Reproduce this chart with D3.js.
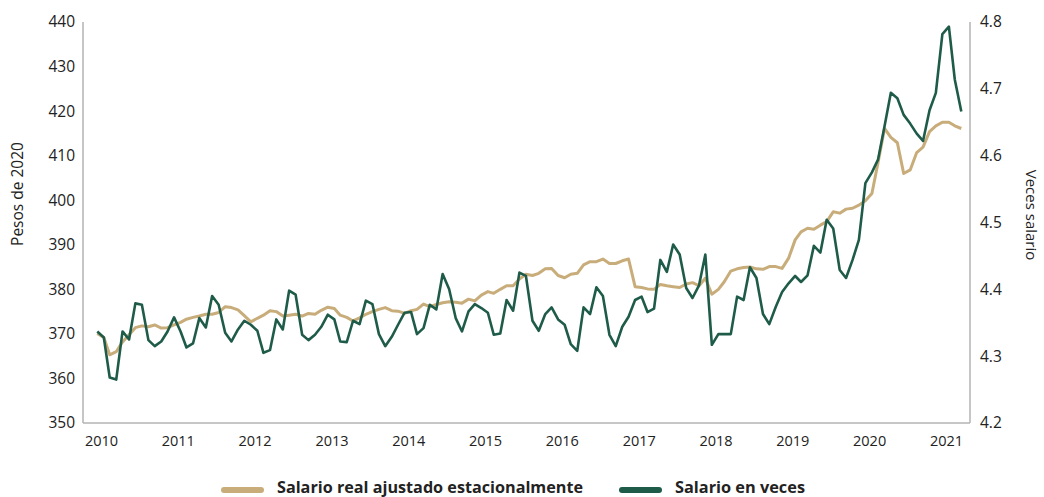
<!DOCTYPE html>
<html>
<head>
<meta charset="utf-8">
<script src="https://cdn.jsdelivr.net/npm/d3@7/dist/d3.min.js"></script>
<style>
  html, body { margin: 0; padding: 0; background: #fff; }
  svg { display: block; }
  text { font-family: "Open Sans", "Noto Sans", sans-serif; fill: #222; }
</style>
</head>
<body>
<svg id="chart" width="1044" height="497"></svg>
<script>
// ---- Data (monthly, Jan 2010 – Apr 2021) ----
const startMonth = "2010-01";
const endMonth = "2021-04";
const yearLabels = ["2010","2011","2012","2013","2014","2015","2016","2017","2018","2019","2020","2021"];
const leftTicks = [350, 360, 370, 380, 390, 400, 410, 420, 430, 440];
const rightTicks = [4.2, 4.3, 4.4, 4.5, 4.6, 4.7, 4.8];

// Salario real ajustado estacionalmente (pesos de 2020) – left axis
const salarioReal = [
  370.1, 369.2, 365.3, 366.0, 368.2, 369.8, 371.4, 371.8, 371.6, 372.0, 371.3, 371.4,
  372.0, 372.6, 373.3, 373.7, 374.0, 374.4, 374.4, 374.8, 376.1, 375.9, 375.4, 374.1,
  372.7, 373.5, 374.2, 375.2, 375.0, 374.0, 374.2, 374.4, 374.0, 374.6, 374.4, 375.3,
  376.0, 375.7, 374.2, 373.7, 372.9, 373.6, 374.4, 375.0, 375.5, 375.9, 375.2, 375.1,
  374.6, 375.2, 375.5, 376.7, 376.1, 376.6, 377.0, 377.2, 377.1, 376.9, 377.8, 377.4,
  378.7, 379.5, 379.1, 380.0, 380.8, 380.8, 382.3, 383.4, 383.1, 383.6, 384.6, 384.7,
  383.1, 382.6, 383.4, 383.6, 385.5, 386.2, 386.2, 386.8, 385.8, 385.8, 386.4, 386.8,
  380.6, 380.4, 380.1, 380.0, 381.1, 380.8, 380.6, 380.4, 381.2, 381.5, 380.8, 382.5,
  378.9, 380.0, 381.7, 384.1, 384.6, 384.9, 385.0, 384.6, 384.5, 385.1, 385.1, 384.7,
  387.0, 391.1, 392.9, 393.7, 393.5, 394.4, 395.2, 397.4, 397.1, 398.0, 398.2, 398.9,
  399.9, 401.5, 408.4, 416.1, 414.1, 412.9, 406.0, 406.8, 410.7, 411.9, 415.4, 416.7,
  417.5, 417.5, 416.7, 416.1
];

// Salario en veces – right axis
const salarioVeces = [
  4.337, 4.328, 4.268, 4.265, 4.337, 4.325, 4.379, 4.377, 4.324, 4.315, 4.322, 4.337,
  4.358, 4.337, 4.313, 4.319, 4.357, 4.343, 4.390, 4.377, 4.335, 4.322, 4.340, 4.353,
  4.347, 4.338, 4.305, 4.309, 4.355, 4.340, 4.398, 4.392, 4.332, 4.324, 4.332, 4.344,
  4.362, 4.355, 4.322, 4.321, 4.353, 4.348, 4.383, 4.378, 4.333, 4.315, 4.329, 4.347,
  4.365, 4.366, 4.333, 4.342, 4.377, 4.370, 4.423, 4.400, 4.357, 4.337, 4.367, 4.378,
  4.372, 4.365, 4.332, 4.334, 4.384, 4.368, 4.425, 4.420, 4.353, 4.338, 4.363, 4.373,
  4.355, 4.347, 4.318, 4.308, 4.373, 4.363, 4.403, 4.390, 4.332, 4.315, 4.344, 4.359,
  4.384, 4.389, 4.366, 4.371, 4.444, 4.426, 4.467, 4.452, 4.402, 4.387, 4.406, 4.452,
  4.317, 4.333, 4.333, 4.333, 4.389, 4.384, 4.433, 4.417, 4.363, 4.348, 4.374, 4.396,
  4.409, 4.420, 4.411, 4.421, 4.465, 4.455, 4.504, 4.491, 4.429, 4.417, 4.444, 4.474,
  4.559, 4.575, 4.594, 4.644, 4.694, 4.686, 4.661, 4.648, 4.633, 4.622, 4.668, 4.694,
  4.782, 4.793, 4.714, 4.666
];

const seriesNames = ["Salario real ajustado estacionalmente", "Salario en veces"];
const colors = ["#C8AD7B", "#1F5B49"];

// ---- Layout ----
const svg = d3.select("#chart");
const plot = { left: 83, right: 970, top: 22, bottom: 423 };
const parseM = d3.timeParse("%Y-%m");
const months = d3.timeMonth.range(parseM(startMonth), d3.timeMonth.offset(parseM(endMonth), 1));

const x = d3.scaleTime()
  .domain([months[0], months[months.length - 1]])
  .range([97.3, 961.3]);
const yL = d3.scaleLinear().domain([350, 440]).range([plot.bottom, plot.top]);
const yR = d3.scaleLinear().domain([4.2, 4.8]).range([plot.bottom, plot.top]);

// Frame lines
const axisColor = "#b3b3b3";
svg.append("line").attr("x1", plot.left).attr("x2", plot.left)
  .attr("y1", plot.top).attr("y2", plot.bottom).attr("stroke", axisColor).attr("stroke-width", 1.5);
svg.append("line").attr("x1", plot.right).attr("x2", plot.right)
  .attr("y1", plot.top).attr("y2", plot.bottom).attr("stroke", axisColor).attr("stroke-width", 1.5);
svg.append("line").attr("x1", plot.left).attr("x2", plot.right)
  .attr("y1", plot.bottom).attr("y2", plot.bottom).attr("stroke", axisColor).attr("stroke-width", 1.5);

// Left axis
const gL = svg.append("g").attr("transform", `translate(${plot.left},0)`)
  .call(d3.axisLeft(yL).tickValues(leftTicks).tickSize(0).tickPadding(8).tickFormat(d3.format("d")));
gL.select(".domain").remove();
gL.selectAll("text").style("font-size", "15.5px").style("font-family", "'Open Sans', sans-serif").attr("fill", "#222");

// Right axis
const gR = svg.append("g").attr("transform", `translate(${plot.right},0)`)
  .call(d3.axisRight(yR).tickValues(rightTicks).tickSize(0).tickPadding(10).tickFormat(d3.format(".1f")));
gR.select(".domain").remove();
gR.selectAll("text").style("font-size", "15.5px").style("font-family", "'Open Sans', sans-serif").attr("fill", "#222");

// Bottom axis
const yearDates = yearLabels.map(y => parseM(y + "-01"));
const gB = svg.append("g").attr("transform", `translate(3.7,${plot.bottom})`)
  .call(d3.axisBottom(x).tickValues(yearDates).tickSize(0).tickPadding(13)
    .tickFormat((d, i) => yearLabels[i]));
gB.select(".domain").remove();
gB.selectAll("text").style("font-size", "14.5px").style("font-family", "'Open Sans', sans-serif").attr("fill", "#222");

// Axis titles
svg.append("text")
  .attr("transform", `translate(23,194) rotate(-90)`)
  .attr("text-anchor", "middle").style("font-size", "15.5px")
  .text("Pesos de 2020");
svg.append("text")
  .attr("transform", `translate(1026,215) rotate(90)`)
  .attr("text-anchor", "middle").style("font-size", "15px")
  .text("Veces salario");

// Lines
const lineReal = d3.line().x((d, i) => x(months[i])).y(d => yL(d));
const lineVeces = d3.line().x((d, i) => x(months[i])).y(d => yR(d));

svg.append("path").datum(salarioReal)
  .attr("fill", "none").attr("stroke", colors[0]).attr("stroke-width", 3)
  .attr("stroke-linejoin", "round").attr("d", lineReal);
svg.append("path").datum(salarioVeces)
  .attr("fill", "none").attr("stroke", colors[1]).attr("stroke-width", 2.6)
  .attr("stroke-linejoin", "round").attr("d", lineVeces);

// Legend
const legend = [
  { name: seriesNames[0], color: colors[0], x0: 224, tx: 277, w: 306 },
  { name: seriesNames[1], color: colors[1], x0: 622, tx: 675, w: 130 }
];
legend.forEach(l => {
  svg.append("line").attr("x1", l.x0).attr("x2", l.x0 + 37)
    .attr("y1", 490).attr("y2", 490)
    .attr("stroke", l.color).attr("stroke-width", 6).attr("stroke-linecap", "round");
  svg.append("text").attr("x", l.tx).attr("y", 492.5)
    .style("font-size", "15.5px").style("font-weight", "700")
    .attr("textLength", l.w).attr("lengthAdjust", "spacingAndGlyphs")
    .text(l.name);
});
</script>
</body>
</html>
